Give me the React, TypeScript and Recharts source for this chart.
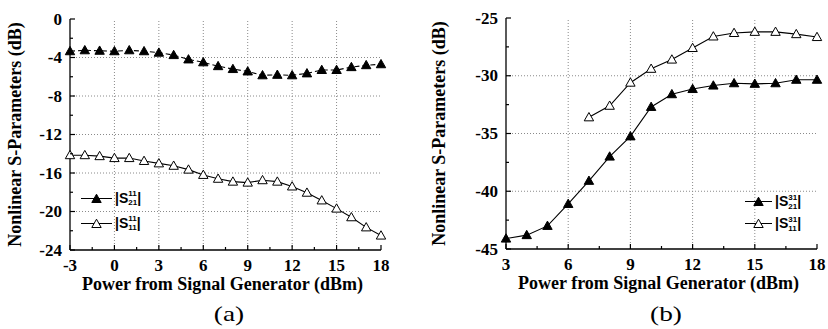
import React from "react";
import { LineChart, Line, XAxis, YAxis, ReferenceLine, Legend } from "recharts";

const SERIF = "'Liberation Serif', 'Times New Roman', serif";
const SANS = "'Liberation Sans', Arial, sans-serif";

// panel (a)
const powerA = [-3, -2, -1, 0, 1, 2, 3, 4, 5, 6, 7, 8, 9, 10, 11, 12, 13, 14, 15, 16, 17, 18];
const s21A = [-3.35, -3.25, -3.3, -3.35, -3.25, -3.35, -3.5, -3.75, -4.2, -4.5, -4.9, -5.2, -5.45, -5.85, -5.8, -5.85, -5.65, -5.3, -5.3, -5.0, -4.8, -4.7];
const s11A = [-14.15, -14.15, -14.25, -14.45, -14.45, -14.75, -15.0, -15.25, -15.65, -16.2, -16.6, -16.9, -17.0, -16.75, -16.9, -17.4, -18.05, -18.85, -19.7, -20.6, -21.65, -22.5];
const xTicksA = [-3, 0, 3, 6, 9, 12, 15, 18];
const yTicksA = [-24, -20, -16, -12, -8, -4, 0];

// panel (b)
const powerB = [3, 4, 5, 6, 7, 8, 9, 10, 11, 12, 13, 14, 15, 16, 17, 18];
const s21B = [-44.1, -43.8, -43.0, -41.1, -39.1, -37.0, -35.25, -32.7, -31.6, -31.15, -30.85, -30.65, -30.7, -30.65, -30.35, -30.35];
const s11B = [null, null, null, null, -33.6, -32.6, -30.6, -29.4, -28.6, -27.6, -26.6, -26.3, -26.2, -26.2, -26.4, -26.65];
const xTicksB = [3, 6, 9, 12, 15, 18];
const yTicksB = [-45, -40, -35, -30, -25];

const dataA = powerA.map((p, i) => ({ p, s21: s21A[i], s11: s11A[i] }));
const dataB = powerB.map((p, i) => ({ p, s21: s21B[i], s11: s11B[i] }));

function withMinors(majors: number[]) {
  const out: number[] = [];
  majors.forEach((m, i) => {
    out.push(m);
    if (i < majors.length - 1) out.push((m + majors[i + 1]) / 2);
  });
  return out;
}

function Tri({ cx, cy, filled }: { cx?: number; cy?: number; filled: boolean }) {
  if (cx == null || cy == null || isNaN(cx) || isNaN(cy)) return <g />;
  return (
    <path
      d={`M${cx},${cy - 4.8}L${cx + 4.7},${cy + 3.5}L${cx - 4.7},${cy + 3.5}Z`}
      fill={filled ? "#000" : "#fff"}
      stroke="#000"
      strokeWidth={1}
    />
  );
}

const labelStyle = { fontFamily: SERIF, fontWeight: 700, fontSize: 17, fill: "#000" };

const makeTick = (side: "bottom" | "top" | "left" | "right", majors: number[]) => (p: any) => {
  const { x, y, payload } = p;
  const major = majors.includes(payload.value);
  const len = major ? 5 : 3;
  if (side === "bottom")
    return (
      <g>
        <line x1={x} x2={x} y1={y} y2={y - len} stroke="#000" strokeWidth={1.2} />
        {major && (
          <text x={x} y={y + 15} textAnchor="middle" dominantBaseline="central" {...labelStyle}>
            {payload.value}
          </text>
        )}
      </g>
    );
  if (side === "top") return <line x1={x} x2={x} y1={y} y2={y + len} stroke="#000" strokeWidth={1.2} />;
  if (side === "right") return <line x1={x} x2={x - len} y1={y} y2={y} stroke="#000" strokeWidth={1.2} />;
  return (
    <g>
      <line x1={x} x2={x + len} y1={y} y2={y} stroke="#000" strokeWidth={1.2} />
      {major && (
        <text x={x - 8} y={y} textAnchor="end" dominantBaseline="central" {...labelStyle}>
          {payload.value}
        </text>
      )}
    </g>
  );
};

function YTitle(props: any) {
  const { viewBox, dx } = props;
  const cx = viewBox.x + dx;
  const cy = viewBox.y + viewBox.height / 2;
  return (
    <text
      x={cx}
      y={cy}
      transform={`rotate(-90 ${cx} ${cy})`}
      textAnchor="middle"
      dominantBaseline="central"
      fontFamily={SERIF}
      fontWeight={700}
      fontSize={18}
    >
      Nonlinear S-Parameters (dB)
    </text>
  );
}

function XTitle(props: any) {
  const { viewBox } = props;
  return (
    <text
      x={viewBox.x + viewBox.width / 2 - 3}
      y={viewBox.y + 34}
      textAnchor="middle"
      dominantBaseline="central"
      fontFamily={SERIF}
      fontWeight={700}
      fontSize={18}
    >
      Power from Signal Generator (dBm)
    </text>
  );
}

type LegendItem = { filled: boolean; sup: string; sub: string };

const legendContent = (items: LegendItem[], lineW: number, rowH: number) => () => (
  <div style={{ fontFamily: SANS, fontWeight: 700, color: "#000" }}>
    {items.map((it, i) => (
      <div key={i} style={{ display: "flex", alignItems: "center", height: rowH }}>
        <svg width={lineW} height={14} style={{ marginRight: 3 }}>
          <line x1={0} x2={lineW} y1={7.5} y2={7.5} stroke="#000" strokeWidth={1} />
          <Tri cx={lineW / 2} cy={8} filled={it.filled} />
        </svg>
        <span style={{ fontSize: 14 }}>|S</span>
        <span
          style={{ display: "inline-flex", flexDirection: "column", fontSize: 8, lineHeight: "9px", marginTop: 1 }}
        >
          <span>{it.sup}</span>
          <span>{it.sub}</span>
        </span>
        <span style={{ fontSize: 14 }}>|</span>
      </div>
    ))}
  </div>
);

type PanelProps = {
  data: any[];
  xTicks: number[];
  yTicks: number[];
  left: number;
  width: number;
  yAxisW: number;
  marginTop: number;
  marginRight: number;
  bottomSpace: number;
  titleDx: number;
  dashed: boolean;
  legend: LegendItem[];
  legendPos: { left: number; top: number };
  legendLineW: number;
  legendRowH: number;
  caption: string;
  captionX: number;
};

function Panel(pp: PanelProps) {
  const xAll = withMinors(pp.xTicks);
  const yAll = withMinors(pp.yTicks);
  const xDom = [pp.xTicks[0], pp.xTicks[pp.xTicks.length - 1]];
  const yDom = [pp.yTicks[0], pp.yTicks[pp.yTicks.length - 1]];
  const grid = { stroke: "#8a8a8a", strokeDasharray: "1 2", strokeWidth: 1 };
  return (
    <div style={{ position: "absolute", left: pp.left, top: 0, width: pp.width, height: 329 }}>
      <LineChart
        width={pp.width}
        height={329}
        data={pp.data}
        margin={{ top: pp.marginTop, right: pp.marginRight, left: 0, bottom: pp.bottomSpace - 30 }}
      >
        <XAxis
          xAxisId="b"
          dataKey="p"
          type="number"
          domain={xDom}
          ticks={xAll}
          interval={0}
          tickSize={0}
          tickMargin={0}
          tickLine={false}
          height={30}
          axisLine={{ stroke: "#000", strokeWidth: 1.3 }}
          tick={makeTick("bottom", pp.xTicks)}
          label={<XTitle />}
        />
        <XAxis
          xAxisId="t"
          orientation="top"
          type="number"
          dataKey="p"
          domain={xDom}
          ticks={xAll}
          interval={0}
          tickSize={0}
          tickMargin={0}
          tickLine={false}
          height={0}
          axisLine={{ stroke: "#000", strokeWidth: 1.3 }}
          tick={makeTick("top", pp.xTicks)}
        />
        <YAxis
          yAxisId="l"
          type="number"
          domain={yDom}
          ticks={yAll}
          interval={0}
          tickSize={0}
          tickMargin={0}
          tickLine={false}
          width={pp.yAxisW}
          axisLine={{ stroke: "#000", strokeWidth: 1.3 }}
          tick={makeTick("left", pp.yTicks)}
          label={<YTitle dx={pp.titleDx} />}
        />
        <YAxis
          yAxisId="r"
          orientation="right"
          type="number"
          domain={yDom}
          ticks={yAll}
          interval={0}
          tickSize={0}
          tickMargin={0}
          tickLine={false}
          width={0}
          axisLine={{ stroke: "#000", strokeWidth: 1.3 }}
          tick={makeTick("right", pp.yTicks)}
        />
        {pp.xTicks.slice(1, -1).map((v) => (
          <ReferenceLine key={"x" + v} x={v} xAxisId="b" yAxisId="l" {...grid} />
        ))}
        {pp.yTicks.slice(1, -1).map((v) => (
          <ReferenceLine key={"y" + v} y={v} xAxisId="b" yAxisId="l" {...grid} />
        ))}
        <Line
          xAxisId="b"
          yAxisId="l"
          dataKey="s21"
          name="s21"
          stroke="#000"
          strokeWidth={1.1}
          strokeDasharray={pp.dashed ? "5 3" : undefined}
          isAnimationActive={false}
          dot={(d: any) => <Tri key={"a" + d.index} cx={d.cx} cy={d.cy} filled />}
          activeDot={false}
        />
        <Line
          xAxisId="b"
          yAxisId="l"
          dataKey="s11"
          name="s11"
          stroke="#000"
          strokeWidth={1.1}
          isAnimationActive={false}
          dot={(d: any) => <Tri key={"b" + d.index} cx={d.cx} cy={d.cy} filled={false} />}
          activeDot={false}
        />
        <Legend
          layout="vertical"
          align="center"
          verticalAlign="middle"
          content={legendContent(pp.legend, pp.legendLineW, pp.legendRowH)}
          wrapperStyle={{ left: pp.legendPos.left, top: pp.legendPos.top, width: "auto", height: "auto" }}
        />
      </LineChart>
      <div
        style={{
          position: "absolute",
          left: pp.captionX - 40,
          width: 80,
          top: 300,
          textAlign: "center",
          fontFamily: SERIF,
          fontSize: 21,
          lineHeight: "28px",
          transform: "scaleX(1.3)",
        }}
      >
        {pp.caption}
      </div>
    </div>
  );
}

export default function App() {
  return (
    <div style={{ position: "absolute", left: 0, top: 0, width: 828, height: 329, background: "#fff" }}>
      <Panel
        data={dataA}
        xTicks={xTicksA}
        yTicks={yTicksA}
        left={0}
        width={400}
        yAxisW={70}
        marginTop={19}
        marginRight={19}
        bottomSpace={79}
        titleDx={15}
        dashed
        legend={[
          { filled: true, sup: "11", sub: "21" },
          { filled: false, sup: "11", sub: "11" },
        ]}
        legendPos={{ left: 81, top: 185 }}
        legendLineW={31}
        legendRowH={25}
        caption="(a)"
        captionX={229}
      />
      <Panel
        data={dataB}
        xTicks={xTicksB}
        yTicks={yTicksB}
        left={420}
        width={408}
        yAxisW={86}
        marginTop={18}
        marginRight={11}
        bottomSpace={80}
        titleDx={19}
        dashed={false}
        legend={[
          { filled: true, sup: "31", sub: "21" },
          { filled: false, sup: "31", sub: "11" },
        ]}
        legendPos={{ left: 325, top: 190 }}
        legendLineW={27}
        legendRowH={22}
        caption="(b)"
        captionX={246}
      />
    </div>
  );
}
